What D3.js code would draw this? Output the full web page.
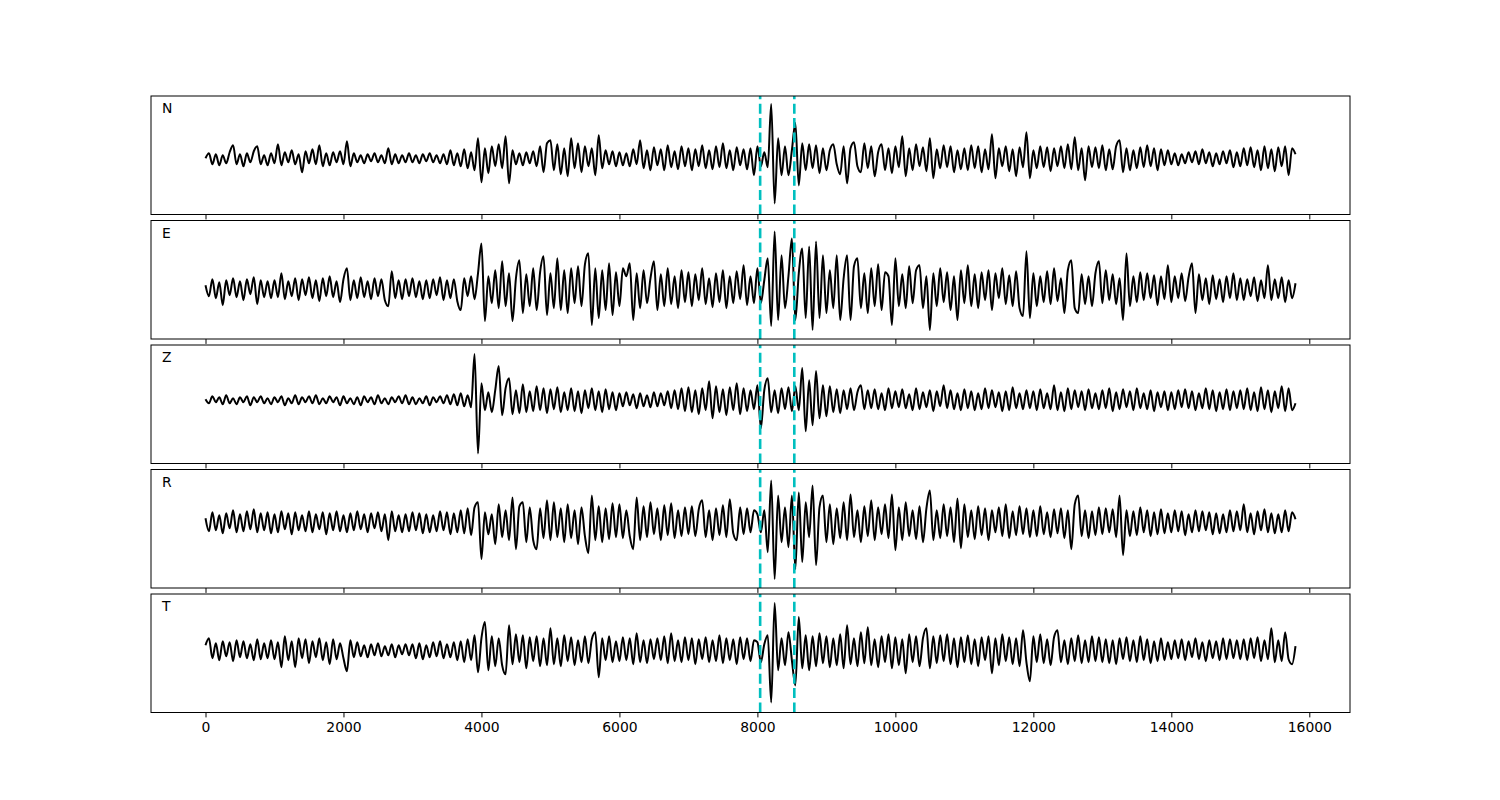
<!DOCTYPE html>
<html><head><meta charset="utf-8">
<script src="https://cdn.jsdelivr.net/npm/d3@7"></script>
<style>body{margin:0;background:#fff} svg{display:block}</style>
</head><body>
<svg id="c" width="1500" height="800"></svg>
<script>
// ---------------- data ----------------
const components = ["N", "E", "Z", "R", "T"];
const sampleStep = 50;               // time units between samples
const pickTimes = [8040, 8535];      // dashed cyan markers
const xTicks = [0, 2000, 4000, 6000, 8000, 10000, 12000, 14000, 16000];
const xDomain = [-790, 16590];
const yLimits = [[-56, 62], [-51, 68], [-63, 55], [-66, 53], [-62, 56]];

const traceN = [
 0, 5, -6, 4, -7, 3, -5, 6, 13, -6, 4, -8, 5, -4, 7, 12, -6, 3, -7, 5,
 -5, 14, -7, 6, -4, 8, -6, 4, -14, 7, -5, 9, -6, 13, -8, 5, -7, 6, -4, 7,
 -6, 17, -8, 5, -4, 3, -5, 4, -3, 5, -4, 3, -5, 10, -6, 4, -5, 3, -4, 5,
 -4, 3, -5, 4, -3, 5, -4, 3, -5, 4, -6, 8, -7, 5, -8, 9, -10, 6, -12, 20,
 -24, 10, -15, 12, -8, 14, -10, 22, -25, 8, -6, 5, -7, 6, -5, 7, -8, 12, -14, 15,
 18, -12, 14, -16, 10, -18, 20, -10, 15, -14, 12, -8, 10, -17, 23, -10, 8, -6, 7, -8,
 6, -7, 5, -8, 9, -6, 18, -10, 8, -12, 11, -7, 9, -12, 13, -9, 7, -11, 12, -8,
 10, -12, 9, -8, 13, -10, 8, -11, 12, -9, 15, -10, 8, -12, 11, -7, 9, -11, 10, -17,
 12, -8, 6, -9, 54, -45, 20, -17, 12, -17, 8, 35, -27, 15, -12, 14, -10, 13, -15, 10,
 -12, 8, 14, -6, -16, 12, -25, 10, 16, -8, -14, 15, -10, 12, -18, 6, 14, -12, 10, -15,
 12, -9, 22, -18, 10, -12, 14, -8, 11, -13, 20, -20, 9, -10, 13, -9, 12, -14, 8, -11,
 10, -12, 13, -10, 12, -14, 9, -11, 24, -20, 10, -8, 12, -13, 9, -18, 11, -9, 26, -20,
 8, -10, 12, -9, 11, -13, 10, -8, 12, -10, 14, -11, 21, -12, 10, -22, 12, -9, 11, -10,
 13, -12, 9, -11, 12, 18, -14, 10, -12, 8, -10, 11, -9, 13, -8, 10, -12, 9, -7, 8,
 -6, 5, -7, 4, -5, 6, -4, 7, -6, 9, -5, 6, -8, 5, -6, 7, -5, 8, -9, 6,
 -8, 10, -7, 11, -9, 8, -12, 12, -10, 9, -13, 11, -8, 12, -17, 10, 4
];

const traceE = [
 3, -8, 9, -10, 6, -17, 8, -7, 10, -9, 7, -12, 9, -6, 11, -16, 8, -9, 7, -10,
 8, -9, 15, -11, 7, -8, 10, -12, 9, -7, 11, -10, 8, -13, 10, -8, 12, -9, 7, -14,
 9, 20, -12, 8, -10, 11, -9, 7, -11, 10, -8, 9, -12, -18, 17, -10, 8, -11, 9, -8,
 10, -9, 7, -11, 8, -10, 9, -7, 11, -12, 8, -10, 9, -13, -22, 10, -8, 12, -11, 15,
 45, -33, 12, -15, 18, -20, 27, -18, 15, -33, 10, 28, -25, 14, -18, 20, -22, 16, 32, -27,
 15, -20, 30, -22, 18, -25, 20, -15, 22, -18, 24, 35, -37, 20, -30, 18, -22, 25, -27, 16,
 -18, 20, 12, 25, -32, 15, -20, 18, -15, 10, 27, -22, 14, -18, 20, -16, 12, -20, 18, -14,
 16, -18, 14, -12, 20, -16, 10, -19, 15, -14, 18, -20, 12, -15, 17, -11, 23, -17, 12, -15,
 20, -15, 8, 30, -38, 57, -32, 33, -20, 12, 50, -32, 15, 40, -30, 42, -42, 47, -30, 33,
 -25, 18, -20, 33, -32, 10, 33, -32, 22, 30, -20, 15, -25, 20, -18, 24, -22, 16, 12, -37,
 30, -18, 14, -20, 22, -15, 18, 23, -20, 12, -42, 15, -18, 20, -14, 16, -22, 12, -32, 18,
 -15, 23, -18, 14, -20, 16, -12, 18, -22, 15, -10, 20, -16, 13, -18, 17, -20, -28, 37, -30,
 15, -18, 12, -14, 17, -16, 20, -13, 10, -25, 18, 28, -20, -25, 14, -16, 12, -18, 15, 27,
 -15, 18, -12, 14, -16, 10, -32, 35, -18, 12, -14, 16, -12, 15, -10, 13, -17, 12, -11, 23,
 -14, 12, -10, 15, -13, 11, 25, -25, 14, -12, 10, -16, 13, -11, 9, -14, 12, -10, 15, -12,
 10, -12, 9, -8, 11, -13, 8, -10, 23, -12, 9, -10, 11, -14, 8, -10, 5
];

const traceZ = [
 1, -3, 4, -2, 3, -4, 5, -3, 2, -4, 3, -2, 4, -5, 3, -2, 4, -3, 2, -4,
 3, -2, 4, -5, 2, -3, 5, -4, 3, -2, 4, -3, 5, -4, 2, -3, 4, -2, 3, -5,
 4, -3, 2, -4, 3, -5, 4, -2, 3, -4, 5, -3, 2, -4, 3, -2, 4, -3, 5, -4,
 3, -4, 2, -3, 4, -5, 3, -2, 4, -3, 5, -4, 6, -5, 7, -6, 5, -7, 46, -53,
 17, -10, 8, -12, 10, 34, -15, 12, 22, -14, 10, -13, 16, -12, 9, -11, 14, -10, 12, -13,
 11, -9, 13, -12, 8, -10, 12, -11, 9, -13, 10, -8, 12, -10, 9, -12, 11, -9, 8, -10,
 7, -6, 8, -5, 6, -8, 7, -6, 5, -7, 8, -6, 7, -5, 9, -8, 10, -9, 12, -11,
 13, -12, 10, -14, 12, -10, 19, -18, 14, -12, 11, -15, 13, -10, 17, -14, 12, -11, 10, -9,
 15, -28, 10, 22, -12, 10, -13, 12, -9, 13, -11, 14, -10, 32, -31, 20, -25, 29, -18, 15,
 -16, 14, -12, 11, -13, 10, -9, 12, -10, 8, 15, -9, 10, -8, 11, -9, 7, -10, 12, -8,
 9, -7, 11, -8, 6, -10, 12, -9, 8, -7, 10, -11, 9, -6, 15, -8, 10, -9, 7, -10,
 11, -8, 9, -10, 7, -9, 12, -8, 10, -7, 8, -11, 9, -10, 13, -8, 7, -9, 10, -8,
 9, -10, 11, -8, 7, -9, 15, -10, 8, -11, 12, -9, 10, -7, 9, -10, 11, -8, 7, -9,
 10, -8, 12, -11, 8, -9, 11, -7, 9, -10, 12, -8, 7, -9, 10, -11, 8, -7, 9, -10,
 8, -9, 10, -7, 11, -8, 9, -10, 7, -8, 12, -9, 10, -11, 8, -9, 11, -10, 9, -8,
 10, -9, 12, -10, 8, -11, 13, -9, 10, -12, 9, -8, 14, -11, 12, -10, -3
];

const traceR = [
 4, -9, 10, -8, 7, -11, 9, -6, 12, -10, 8, -9, 11, -7, 13, -10, 9, -8, 10, -11,
 8, -10, 11, -7, 9, -12, 10, -8, 7, -9, 11, -10, 8, -7, 10, -12, 9, -8, 11, -9,
 7, -10, 9, -8, 11, -7, 8, -10, 9, -6, 10, -9, 8, -18, 11, -9, 7, -10, 8, -9,
 10, -8, 9, -11, 8, -10, 7, -9, 11, -8, 10, -12, 9, -10, 12, -11, 14, -13, 15, 20,
 -37, 10, -12, 8, -22, 18, -15, 12, -18, 25, -27, 16, 20, -20, 15, -18, -27, 14, -16, 22,
 -18, 20, -15, 14, -20, 18, -16, 12, -22, 15, -14, -31, 27, -18, 16, -20, 14, -17, 19, -15,
 18, -16, 12, -14, -27, 25, -18, 16, -15, 20, -12, 14, -18, 17, -13, 19, -16, 12, -14, 15,
 -12, 16, -14, 13, 22, -15, 12, -18, 14, -13, 17, -15, 23, -11, -18, 15, -12, 14, -10, 12,
 8, -10, 12, -30, 42, -57, 27, -20, 15, -25, 27, -47, 30, -40, 20, -15, 37, -43, 15, 27,
 -20, 18, -22, 14, -16, 20, -18, 28, -15, 12, -20, 16, -14, 22, -18, 15, -12, 18, -16, 28,
 -28, 15, -18, 20, -14, 12, -17, 16, -20, 14, 32, -18, 12, -16, 18, -14, 15, -20, 24, -26,
 18, -15, 12, -17, 16, -13, 14, -18, 12, -10, 15, -14, 18, -16, 11, -13, 16, -12, 14, -15,
 12, -14, 16, -12, 10, -15, 13, -11, 14, -16, 12, -27, 18, 27, -14, 12, -16, 11, -13, 15,
 -12, 14, -10, 13, -15, 27, -33, 12, -14, 11, -13, 15, -10, 12, -14, 10, -12, 13, -11, 9,
 -10, 12, -9, 11, -13, 8, -10, 12, -9, 11, -8, 10, -12, 9, -11, 8, -10, 12, -9, 11,
 -8, 18, -10, 9, -12, 11, -8, 13, -10, 9, -11, 8, -10, 12, -9, 10, 3
];

const traceT = [
 5, 12, -8, 7, -10, 9, -6, 8, -11, 10, -7, 9, -8, 6, -10, 11, -9, 7, -8, 10,
 -9, 8, -17, 14, -10, 9, -17, 12, -8, 11, -13, 9, -7, 12, -10, 8, -14, 11, -9, 7,
 -8, -21, 10, -7, 8, -6, 5, -7, 6, -5, 7, -6, 4, -5, 6, -7, 5, -4, 6, -5,
 6, -8, 7, -9, 5, -7, 8, -6, 9, -8, 6, -7, 8, -10, 9, -12, 11, -10, 15, -22,
 12, 28, -20, 14, -16, 12, -15, -24, 25, -14, 16, -12, 15, -18, 13, -11, 14, -16, 12, -15,
 22, -14, 12, -16, 15, -11, 13, -15, 10, -12, 14, -13, 11, 18, -27, 12, -10, 14, -12, 9,
 -11, 13, -10, 12, -14, 17, -12, 10, -13, 11, -9, 12, -10, 14, -13, 17, -11, 10, -12, 13,
 -10, 12, -14, 11, -9, 13, -12, 10, -11, 15, -13, 12, -10, 11, -14, 13, -9, 12, -11, 10,
 8, -12, 6, 15, -52, 47, -20, 12, -15, 18, -10, -35, 33, -18, 15, -20, 14, -16, 17, -13,
 14, -17, 12, -15, 16, -18, 25, -14, 12, -16, 18, -13, 23, -15, 11, -17, 14, -12, 16, -18,
 13, -15, 11, -23, 16, -12, 14, -16, 12, 22, -18, 14, -13, 15, -11, 16, -14, 12, -17, 13,
 -12, 15, -14, 11, -16, 13, -10, 14, -23, 12, -15, 16, -11, 13, -14, 12, -16, 20, -12, -31,
 14, -12, 16, -13, 11, -15, 13, 20, -12, 10, -14, 12, -11, 15, -13, 10, -12, 14, -11, 13,
 -12, 11, -13, 10, -14, 12, -9, 13, -11, 10, -12, 14, -10, 11, -13, 9, -11, 12, -10, 8,
 -9, 10, -8, 11, -10, 9, -7, 12, -9, 8, -11, 10, -8, 9, -10, 12, -9, 11, -8, 10,
 -9, 11, -10, 12, -8, 13, -11, 10, -9, 22, -12, 10, -11, 18, -9, -14, 4
];

const traces = [traceN, traceE, traceZ, traceR, traceT];

// ---------------- layout ----------------
const svg = d3.select("#c");
const left = 151, right = 1350;
const firstTop = 96, panelH = 118.5, panelStep = 124.5;
const font = "'DejaVu Sans', sans-serif";

const x = d3.scaleLinear().domain(xDomain).range([left, right]);

components.forEach((name, i) => {
  const top = firstTop + i * panelStep;
  const bottom = top + panelH;
  const y = d3.scaleLinear().domain(yLimits[i]).range([bottom, top]);
  const g = svg.append("g");

  const line = d3.line()
    .x((d, k) => x(k * sampleStep))
    .y(d => y(d))
    .curve(d3.curveMonotoneX);

  g.append("path")
    .datum(traces[i])
    .attr("d", line)
    .attr("fill", "none")
    .attr("stroke", "#000")
    .attr("stroke-width", 2)
    .attr("stroke-linejoin", "round");

  g.selectAll("line.pick")
    .data(pickTimes)
    .join("line")
    .attr("class", "pick")
    .attr("x1", d => x(d)).attr("x2", d => x(d))
    .attr("y1", bottom).attr("y2", top)
    .attr("stroke", "#00bfbf")
    .attr("stroke-width", 2.6)
    .attr("stroke-dasharray", "10,4.4");

  // frame
  g.append("rect")
    .attr("x", left).attr("y", top)
    .attr("width", right - left).attr("height", panelH)
    .attr("fill", "none").attr("stroke", "#000").attr("stroke-width", 1);

  // x axis ticks
  const axis = d3.axisBottom(x).tickValues(xTicks).tickSize(4.9).tickPadding(4.5)
    .tickFormat(i === components.length - 1 ? d3.format("d") : () => "");
  const ax = g.append("g").attr("transform", `translate(0,${bottom})`).call(axis);
  ax.select(".domain").remove();
  ax.selectAll("line").attr("stroke", "#000").attr("stroke-width", 1);
  ax.selectAll("text").attr("font-family", font).attr("font-size", 13.9).attr("fill", "#000");

  g.append("text")
    .attr("x", left + 11).attr("y", top + 17)
    .attr("font-family", font).attr("font-size", 13.9)
    .attr("fill", "#000")
    .text(name);
});
</script>
</body></html>
